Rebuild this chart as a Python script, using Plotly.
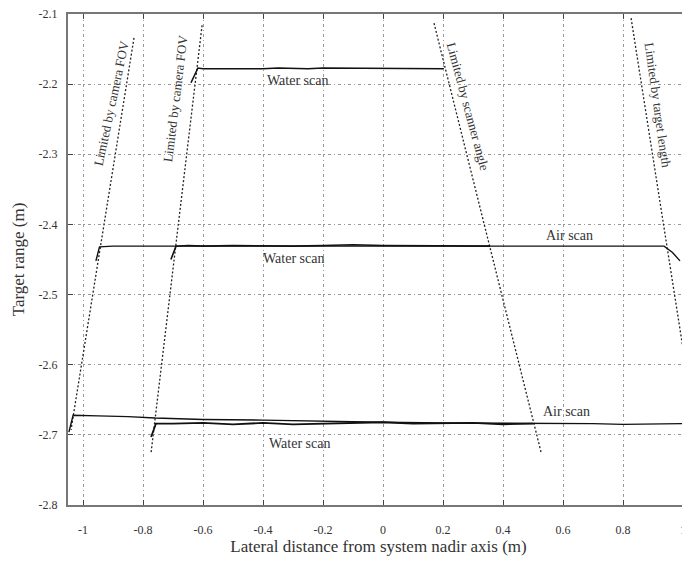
import plotly.graph_objects as go

# ---- data ----
water_top_x = [-0.640, -0.617, -0.60, -0.55, -0.50, -0.45, -0.40, -0.35, -0.30, -0.25, -0.20, -0.15, -0.10, -0.05, 0.00, 0.05, 0.10, 0.15, 0.203]
water_top_y = [-2.198, -2.177, -2.178, -2.178, -2.179, -2.178, -2.178, -2.177, -2.178, -2.178, -2.177, -2.177, -2.178, -2.177, -2.177, -2.177, -2.178, -2.178, -2.178]

air_mid_x = [-0.957, -0.945, -0.90, -0.80, -0.70, -0.60, -0.50, -0.40, -0.30, -0.20, -0.10, 0.00, 0.10, 0.20, 0.30, 0.40, 0.50, 0.60, 0.70, 0.80, 0.90, 0.937, 0.965, 0.990]
air_mid_y = [-2.452, -2.432, -2.431, -2.431, -2.431, -2.430, -2.431, -2.431, -2.430, -2.431, -2.430, -2.430, -2.431, -2.430, -2.431, -2.430, -2.431, -2.431, -2.430, -2.431, -2.431, -2.431, -2.440, -2.452]

water_mid_x = [-0.707, -0.690, -0.65, -0.60, -0.50, -0.40, -0.30, -0.20, -0.10, 0.00, 0.10, 0.20, 0.30, 0.357]
water_mid_y = [-2.450, -2.431, -2.430, -2.431, -2.430, -2.431, -2.431, -2.430, -2.429, -2.430, -2.430, -2.431, -2.430, -2.431]

air_bot_x = [-1.047, -1.033, -0.95, -0.85, -0.76, -0.60, -0.40, -0.20, 0.00, 0.20, 0.40, 0.50, 0.60, 0.70, 0.80, 0.90, 1.00, 1.03]
air_bot_y = [-2.696, -2.672, -2.673, -2.674, -2.676, -2.678, -2.679, -2.681, -2.682, -2.683, -2.683, -2.684, -2.684, -2.684, -2.685, -2.684, -2.684, -2.685]

water_bot_x = [-0.773, -0.757, -0.70, -0.60, -0.50, -0.40, -0.30, -0.20, -0.10, 0.00, 0.10, 0.20, 0.30, 0.40, 0.45, 0.50]
water_bot_y = [-2.703, -2.684, -2.684, -2.683, -2.685, -2.683, -2.685, -2.684, -2.683, -2.682, -2.684, -2.684, -2.683, -2.685, -2.684, -2.684]

# limit lines (end points)
fov1_x = [-0.830, -1.040]
fov1_y = [-2.134, -2.693]
fov2_x = [-0.603, -0.773]
fov2_y = [-2.116, -2.725]
scan_x = [0.170, 0.527]
scan_y = [-2.113, -2.725]
tlen_x = [0.827, 1.060]
tlen_y = [-2.106, -2.740]

x_ticks = [-1, -0.8, -0.6, -0.4, -0.2, 0, 0.2, 0.4, 0.6, 0.8, 1]
x_tick_text = ["-1", "-0.8", "-0.6", "-0.4", "-0.2", "0", "0.2", "0.4", "0.6", "0.8", "1"]
y_ticks = [-2.8, -2.7, -2.6, -2.5, -2.4, -2.3, -2.2, -2.1]
y_tick_text = ["-2.8", "-2.7", "-2.6", "-2.5", "-2.4", "-2.3", "-2.2", "-2.1"]

scan_labels = ["Water scan", "Water scan", "Air scan", "Air scan", "Water scan"]
scan_label_x = [-0.285, -0.30, 0.62, 0.613, -0.28]
scan_label_y = [-2.195, -2.448, -2.416, -2.667, -2.713]

limit_labels = ["Limited by camera FOV", "Limited by camera FOV", "Limited by scanner angle", "Limited by target length"]
limit_label_x = [-0.907, -0.693, 0.283, 0.917]
limit_label_y = [-2.227, -2.220, -2.232, -2.230]
limit_label_angle = [-78, -83, 75, 82]

SERIF = "Liberation Serif, Times New Roman, serif"

fig = go.Figure()

for lx, ly in [(fov1_x, fov1_y), (fov2_x, fov2_y), (scan_x, scan_y), (tlen_x, tlen_y)]:
    fig.add_trace(go.Scatter(x=lx, y=ly, mode="lines",
                             line=dict(color="#222", width=1.3, dash="2px,2px"),
                             showlegend=False, hoverinfo="skip"))

for sx, sy, w in [(air_bot_x, air_bot_y, 1.4), (water_bot_x, water_bot_y, 1.8),
                  (air_mid_x, air_mid_y, 1.4), (water_mid_x, water_mid_y, 1.6),
                  (water_top_x, water_top_y, 1.6)]:
    fig.add_trace(go.Scatter(x=sx, y=sy, mode="lines",
                             line=dict(color="#111", width=w),
                             showlegend=False))

for t, x, y in zip(scan_labels, scan_label_x, scan_label_y):
    fig.add_annotation(x=x, y=y, text=t, showarrow=False,
                       font=dict(family=SERIF, size=14, color="#333"))

for t, x, y, a in zip(limit_labels, limit_label_x, limit_label_y, limit_label_angle):
    fig.add_annotation(x=x, y=y, text=t, showarrow=False, textangle=a,
                       font=dict(family=SERIF, size=13, color="#333"))

axis_common = dict(showgrid=True, gridcolor="#999", griddash="3px,3px,1px,3px", gridwidth=1,
                   zeroline=False, showline=True, linecolor="#777", linewidth=2,
                   mirror="ticks", ticks="inside", ticklen=5, tickcolor="#444",
                   automargin=False, ticklabeloverflow="allow",
                   tickfont=dict(family=SERIF, size=12, color="#333"))

fig.update_xaxes(range=[-1.05, 1.02], tickvals=x_ticks, ticktext=x_tick_text,
                 ticklabelstandoff=13,
                 title=dict(text="Lateral distance from system nadir axis (m)",
                            font=dict(family=SERIF, size=17, color="#333"), standoff=4),
                 **axis_common)
fig.update_yaxes(range=[-2.8, -2.1], tickvals=y_ticks, ticktext=y_tick_text,
                 ticklabelstandoff=6,
                 title=dict(text="Target range (m)",
                            font=dict(family=SERIF, size=17, color="#333"), standoff=10),
                 **axis_common)

# the page body adds an 8px offset, margins compensate for it
fig.update_layout(width=690, height=565, margin=dict(l=60, r=9, t=6, b=68),
                  plot_bgcolor="white", paper_bgcolor="white", showlegend=False)

fig.write_html("out.html")
